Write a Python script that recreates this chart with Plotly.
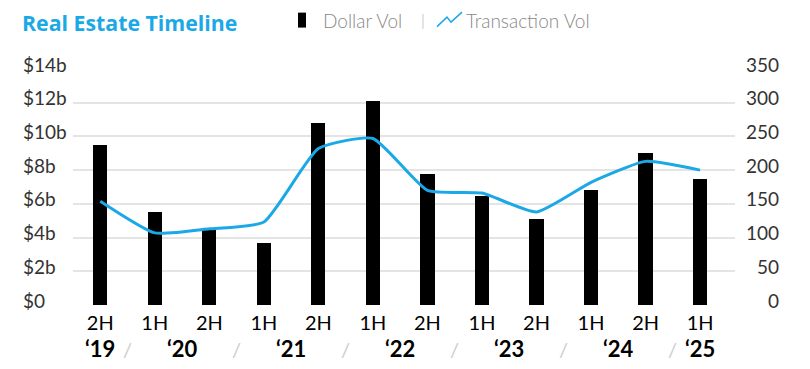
import plotly.graph_objects as go

periods = ["2H", "1H", "2H", "1H", "2H", "1H", "2H", "1H", "2H", "1H", "2H", "1H"]
years = ["‘19", "‘20", "‘21", "‘22", "‘23", "‘24", "‘25"]
year_pos = [0, 1.5, 3.5, 5.5, 7.5, 9.5, 11]
sep_pos = [0.5, 2.5, 4.5, 6.5, 8.5, 10.5]
dollar_vol = [9.5, 5.5, 4.5, 3.7, 10.8, 12.1, 7.75, 6.45, 5.1, 6.8, 9.0, 7.45]
trans_vol = [154, 107, 113, 123, 232, 247, 170, 166, 138, 182, 213, 200]
left_ticks = [0, 2, 4, 6, 8, 10, 12, 14]
left_text = ["$0", "$2b", "$4b", "$6b", "$8b", "$10b", "$12b", "$14b"]
right_ticks = [0, 50, 100, 150, 200, 250, 300, 350]

OFF = 8  # default page body margin
W, H = 810 - OFF, 369 - OFF
L, R, T, B = 73 - OFF, 735 - OFF, 68.5 - OFF, 305 - OFF
FONT = "Lato"
BLUE = "#1BA8E6"

def px(x):
    return (x - OFF - L) / (R - L)

def py(y):
    return (B - (y - OFF)) / (B - T)

x = list(range(len(periods)))
fig = go.Figure()
fig.add_trace(go.Bar(x=x, y=dollar_vol, marker=dict(color="black", line=dict(width=0)),
                     width=0.26, name="Dollar Vol", yaxis="y"))
fig.add_trace(go.Scatter(x=x, y=trans_vol, mode="lines", line=dict(color=BLUE, width=3, shape="spline", smoothing=0.5),
                         name="Transaction Vol", yaxis="y2"))

ann = []
for v, t in zip(left_ticks, left_text):
    ann.append(dict(x=px(21), y=v, xref="paper", yref="y", text=t, showarrow=False, xanchor="left",
                    yanchor="middle", yshift=5, font=dict(family=FONT, size=19, color="#333333")))
for v in right_ticks:
    ann.append(dict(x=px(781), y=v, xref="paper", yref="y2", text=str(v), showarrow=False, xanchor="right",
                    yanchor="middle", yshift=5, font=dict(family=FONT, size=19, color="#333333")))
for p, t in zip(year_pos, years):
    ann.append(dict(x=p, y=py(349), xref="x", yref="paper", text="<b>" + t + "</b>", showarrow=False,
                    xanchor="center", yanchor="middle", font=dict(family=FONT, size=22, color="black")))
for p in sep_pos:
    ann.append(dict(x=p, y=py(349), xref="x", yref="paper", text="/", showarrow=False,
                    xanchor="center", yanchor="middle", font=dict(family=FONT, size=20, color="#cccccc")))
ann.append(dict(x=px(21), y=py(22), xref="paper", yref="paper", text="<b>Real Estate Timeline</b>", showarrow=False,
                xanchor="left", yanchor="middle", borderpad=0,
                font=dict(family="Open Sans", size=21.3, color=BLUE)))
ann.append(dict(x=px(321), y=py(20), xref="paper", yref="paper", text="Dollar Vol", showarrow=False,
                xanchor="left", yanchor="middle", font=dict(family=FONT, size=19, color="#888888", weight=300)))
ann.append(dict(x=px(423), y=py(19), xref="paper", yref="paper", text="|", showarrow=False,
                xanchor="center", yanchor="middle", font=dict(family=FONT, size=16, color="#aaaaaa", weight=300)))
ann.append(dict(x=px(464), y=py(20), xref="paper", yref="paper", text="Transaction Vol", showarrow=False,
                xanchor="left", yanchor="middle", font=dict(family=FONT, size=19, color="#888888", weight=300)))

zig = [(437, 26), (447, 16.5), (451, 21.5), (462, 11.5)]
path = "M " + " L ".join(f"{px(a):.5f},{py(b):.5f}" for a, b in zig)
shapes = [
    dict(type="rect", xref="paper", yref="paper", x0=px(298), x1=px(306), y0=py(27), y1=py(12),
         fillcolor="black", line=dict(width=0)),
    dict(type="path", xref="paper", yref="paper", path=path, line=dict(color=BLUE, width=1.5)),
]

fig.update_layout(
    width=W, height=H,
    margin=dict(l=L, r=W - R, t=T, b=H - B),
    paper_bgcolor="white", plot_bgcolor="white",
    showlegend=False,
    bargap=0,
    xaxis=dict(range=[-0.5, 11.64], tickvals=x, ticktext=periods, showgrid=False, zeroline=False,
               showline=False, ticks="", tickfont=dict(family=FONT, size=20, color="black"),
               ticklabelstandoff=4),
    yaxis=dict(range=[0, 14], tickvals=left_ticks, showticklabels=False, showgrid=True,
               gridcolor="#e4e4e4", gridwidth=1.8, zeroline=False, showline=False),
    yaxis2=dict(range=[0, 350], overlaying="y", side="right", showticklabels=False, showgrid=False,
                zeroline=False, showline=False),
    annotations=ann,
    shapes=shapes,
)
fig.write_html("out.html")
